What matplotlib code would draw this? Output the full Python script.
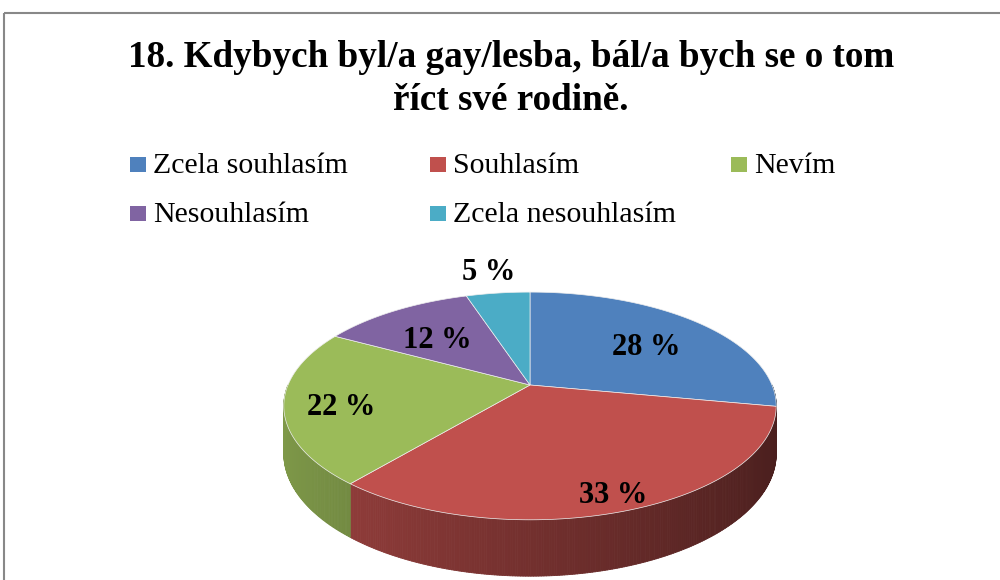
import matplotlib
matplotlib.use("Agg")
import matplotlib.pyplot as plt
from matplotlib.collections import PolyCollection
from matplotlib.patches import Polygon, Rectangle
import numpy as np

plt.rcParams['font.family'] = ['Liberation Serif', 'DejaVu Serif']

title_lines = ["18. Kdybych byl/a gay/lesba, bál/a bych se o tom", "říct své rodině."]
labels = ['Zcela souhlasím', 'Souhlasím', 'Nevím', 'Nesouhlasím', 'Zcela nesouhlasím']
values = [28, 33, 22, 12, 5]
colors = ['#4F81BD', '#C0504D', '#9BBB59', '#8064A2', '#4BACC6']

# pie geometry in pixel coords (simple perspective: front is bigger)
cx, cy, rx, ry, depth, persp = 530, 385, 242, 110, 46, 0.184


def pt(t, f=1.0):
    r = np.radians(t)
    u, v = f * np.cos(r), f * np.sin(r)
    s = 1.0 / (1.0 + persp * v)
    return cx + rx * u * s, cy - ry * v * s, s


def shade(hexcol, f):
    c = np.array(matplotlib.colors.to_rgb(hexcol))
    return tuple(np.clip(c * f, 0, 1))


fig = plt.figure(figsize=(10, 5.8), dpi=100)
ax = fig.add_axes([0, 0, 1, 1])
ax.set_xlim(0, 1000)
ax.set_ylim(580, 0)
ax.axis('off')

# frame (left and top borders visible)
ax.plot([4, 4], [580, 13], color='#888888', lw=1.5, solid_capstyle='butt')
ax.plot([4, 1000], [13, 13], color='#888888', lw=1.5, solid_capstyle='butt')

# slice angles, clockwise from top
total = sum(values)
starts, ends = [], []
a = 90.0
for v in values:
    starts.append(a)
    a -= 360.0 * v / total
    ends.append(a)

# side walls (front arc only, t in [-180, 0])
for s, e, col in zip(starts, ends, colors):
    lo, hi = max(e, -180), min(s, 0)
    if lo >= hi:
        continue
    ts = np.linspace(hi, lo, max(int((hi - lo) * 2), 2))
    polys, fcs = [], []
    for t1, t2 in zip(ts[:-1], ts[1:]):
        x1, y1, s1 = pt(t1)
        x2, y2, s2 = pt(t2)
        polys.append([(x1, y1), (x2, y2), (x2, y2 + depth * s2), (x1, y1 + depth * s1)])
        f = 0.6 - 0.22 * np.cos(np.radians((t1 + t2) / 2))
        fcs.append(shade(col, f))
    ax.add_collection(PolyCollection(polys, facecolors=fcs, edgecolors=fcs, linewidths=0.6))

# top faces
for s, e, col in zip(starts, ends, colors):
    ts = np.linspace(s, e, 200)
    xy = [(cx, cy)] + [pt(t)[:2] for t in ts]
    ax.add_patch(Polygon(xy, closed=True, facecolor=col, edgecolor='#eeeeee', lw=0.5))

# data labels
for s, e, v in zip(starts, ends, values):
    m = (s + e) / 2
    if v > 8:
        f = 0.75 - 0.12 * np.sin(np.radians(m))
    else:
        f = 1.36
    x, y, _ = pt(m, f)
    ax.text(x, y + 6, f"{v} %", ha='center', va='center', fontsize=22, fontweight='bold', color='black')

# title
ax.text(511, 67, title_lines[0], ha='center', va='baseline', fontsize=26.7, fontweight='bold')
ax.text(511, 110, title_lines[1], ha='center', va='baseline', fontsize=26.7, fontweight='bold')

# legend
leg_x = [130, 430, 731]
leg_y = [173, 222]
for i, (lab, col) in enumerate(zip(labels, colors)):
    x = leg_x[i % 3]
    y = leg_y[i // 3]
    ax.add_patch(Rectangle((x, y - 16), 16, 15, facecolor=col, edgecolor='none'))
    ax.text(x + 23, y, lab, ha='left', va='baseline', fontsize=21.5)

fig.savefig('out.png', dpi=100)
